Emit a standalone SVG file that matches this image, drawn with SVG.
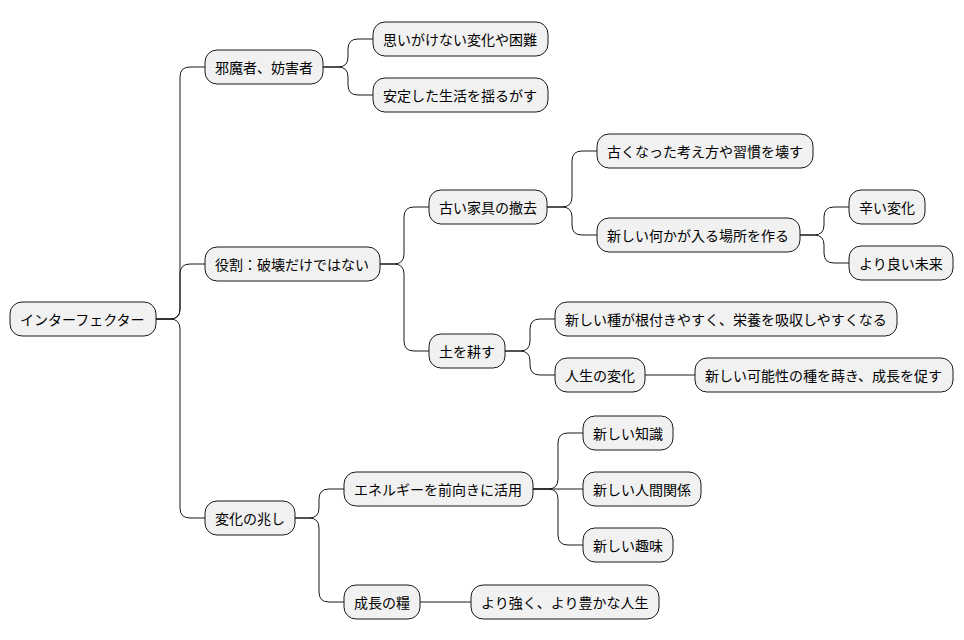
<svg xmlns="http://www.w3.org/2000/svg" width="964" height="640" viewBox="0 0 964 640">
<style>
rect{fill:#f1f1f1;stroke:#181818;stroke-width:1}
text{font-family:"Noto Sans CJK JP","Noto Sans CJK SC",sans-serif;font-size:14px;fill:#000;dominant-baseline:central}
#edges path{fill:none;stroke:#181818;stroke-width:1}
</style>
<rect width="964" height="640" style="fill:#fff;stroke:none"/>
<g id="edges">
<path d="M156 319 H170 Q180 319 180 309 V77 Q180 67 190 67 H205"/>
<path d="M156 319 H170 Q180 319 180 309 V274 Q180 264 190 264 H205"/>
<path d="M156 319 H170 Q180 319 180 329 V508 Q180 518 190 518 H205"/>
<path d="M323 67 H338 Q348 67 348 57 V49 Q348 39 358 39 H373"/>
<path d="M323 67 H338 Q348 67 348 77 V85 Q348 95 358 95 H373"/>
<path d="M380 264 H394 Q404 264 404 254 V217 Q404 207 414 207 H429"/>
<path d="M380 264 H394 Q404 264 404 274 V341 Q404 351 414 351 H429"/>
<path d="M547 207 H562 Q572 207 572 197 V161 Q572 151 582 151 H597"/>
<path d="M547 207 H562 Q572 207 572 217 V225 Q572 235 582 235 H597"/>
<path d="M800 235 H814 Q824 235 824 225 V217 Q824 207 834 207 H849"/>
<path d="M800 235 H814 Q824 235 824 245 V253 Q824 263 834 263 H849"/>
<path d="M505 351 H520 Q530 351 530 341 V329 Q530 319 540 319 H555"/>
<path d="M505 351 H520 Q530 351 530 361 V365 Q530 375 540 375 H555"/>
<path d="M645 375 H695"/>
<path d="M295 518 H309 Q319 518 319 508 V499 Q319 489 329 489 H344"/>
<path d="M295 518 H309 Q319 518 319 528 V592 Q319 602 329 602 H344"/>
<path d="M533 489 H548 Q558 489 558 479 V443 Q558 433 568 433 H583"/>
<path d="M533 489 H583"/>
<path d="M533 489 H548 Q558 489 558 499 V535 Q558 545 568 545 H583"/>
<path d="M420 602 H471"/>
</g>
<g id="n0"><rect x="10" y="302" width="146" height="34" rx="12"/><text x="20" y="319">インターフェクター</text></g>
<g id="n1"><rect x="205" y="50" width="118" height="34" rx="12"/><text x="215" y="67">邪魔者、妨害者</text></g>
<g id="n2"><rect x="373" y="22" width="175" height="34" rx="12"/><text x="383" y="39">思いがけない変化や困難</text></g>
<g id="n3"><rect x="373" y="78" width="175" height="34" rx="12"/><text x="383" y="95">安定した生活を揺るがす</text></g>
<g id="n4"><rect x="205" y="247" width="175" height="34" rx="12"/><text x="215" y="264">役割：破壊だけではない</text></g>
<g id="n5"><rect x="429" y="190" width="118" height="34" rx="12"/><text x="439" y="207">古い家具の撤去</text></g>
<g id="n6"><rect x="597" y="134" width="216" height="34" rx="12"/><text x="607" y="151">古くなった考え方や習慣を壊す</text></g>
<g id="n7"><rect x="597" y="218" width="203" height="34" rx="12"/><text x="607" y="235">新しい何かが入る場所を作る</text></g>
<g id="n8"><rect x="849" y="190" width="76" height="34" rx="12"/><text x="859" y="207">辛い変化</text></g>
<g id="n9"><rect x="849" y="246" width="104" height="34" rx="12"/><text x="859" y="263">より良い未来</text></g>
<g id="n10"><rect x="429" y="334" width="76" height="34" rx="12"/><text x="439" y="351">土を耕す</text></g>
<g id="n11"><rect x="555" y="302" width="342" height="34" rx="12"/><text x="565" y="319">新しい種が根付きやすく、栄養を吸収しやすくなる</text></g>
<g id="n12"><rect x="555" y="358" width="90" height="34" rx="12"/><text x="565" y="375">人生の変化</text></g>
<g id="n13"><rect x="695" y="358" width="258" height="34" rx="12"/><text x="705" y="375">新しい可能性の種を蒔き、成長を促す</text></g>
<g id="n14"><rect x="205" y="501" width="90" height="34" rx="12"/><text x="215" y="518">変化の兆し</text></g>
<g id="n15"><rect x="344" y="472" width="189" height="34" rx="12"/><text x="354" y="489">エネルギーを前向きに活用</text></g>
<g id="n16"><rect x="583" y="416" width="90" height="34" rx="12"/><text x="593" y="433">新しい知識</text></g>
<g id="n17"><rect x="583" y="472" width="118" height="34" rx="12"/><text x="593" y="489">新しい人間関係</text></g>
<g id="n18"><rect x="583" y="528" width="90" height="34" rx="12"/><text x="593" y="545">新しい趣味</text></g>
<g id="n19"><rect x="344" y="585" width="76" height="34" rx="12"/><text x="354" y="602">成長の糧</text></g>
<g id="n20"><rect x="471" y="585" width="188" height="34" rx="12"/><text x="481" y="602">より強く、より豊かな人生</text></g>
</svg>
